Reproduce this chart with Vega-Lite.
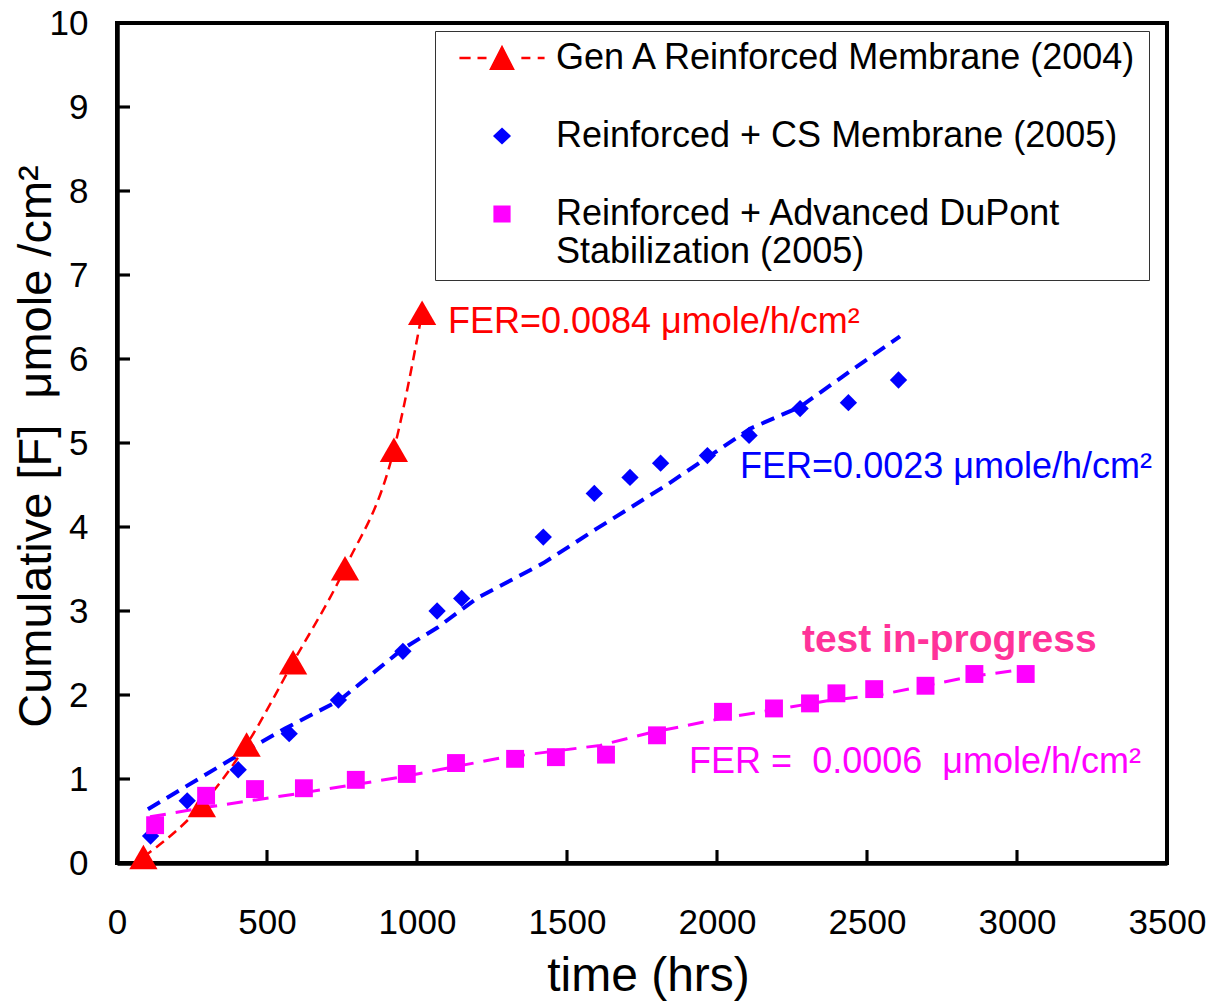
{
  "$schema": "https://vega.github.io/schema/vega-lite/v6.json",
  "width": 1050,
  "height": 840,
  "autosize": {"type": "none"},
  "padding": {"left": 117, "top": 23, "right": 45, "bottom": 138},
  "background": "white",
  "config": {
    "font": "Liberation Sans",
    "view": {"stroke": "black", "strokeWidth": 4},
    "axis": {"grid": false, "domainColor": "black", "tickColor": "black", "labelColor": "black", "titleColor": "black", "labelFont": "Liberation Sans", "titleFont": "Liberation Sans", "titleFontWeight": "normal"}
  },
  "datasets": {
    "pts": [
      {"series": "Gen A Reinforced Membrane (2004)", "t": 88, "F": 0.07},
      {"series": "Gen A Reinforced Membrane (2004)", "t": 283, "F": 0.69},
      {"series": "Gen A Reinforced Membrane (2004)", "t": 432, "F": 1.41},
      {"series": "Gen A Reinforced Membrane (2004)", "t": 587, "F": 2.39},
      {"series": "Gen A Reinforced Membrane (2004)", "t": 760, "F": 3.51},
      {"series": "Gen A Reinforced Membrane (2004)", "t": 923, "F": 4.92},
      {"series": "Gen A Reinforced Membrane (2004)", "t": 1017, "F": 6.55},
      {"series": "Reinforced + CS Membrane (2005)", "t": 112, "F": 0.32},
      {"series": "Reinforced + CS Membrane (2005)", "t": 234, "F": 0.74},
      {"series": "Reinforced + CS Membrane (2005)", "t": 404, "F": 1.11},
      {"series": "Reinforced + CS Membrane (2005)", "t": 574, "F": 1.54},
      {"series": "Reinforced + CS Membrane (2005)", "t": 738, "F": 1.94},
      {"series": "Reinforced + CS Membrane (2005)", "t": 953, "F": 2.52},
      {"series": "Reinforced + CS Membrane (2005)", "t": 1067, "F": 3.0},
      {"series": "Reinforced + CS Membrane (2005)", "t": 1149, "F": 3.15},
      {"series": "Reinforced + CS Membrane (2005)", "t": 1421, "F": 3.88},
      {"series": "Reinforced + CS Membrane (2005)", "t": 1591, "F": 4.40},
      {"series": "Reinforced + CS Membrane (2005)", "t": 1710, "F": 4.59},
      {"series": "Reinforced + CS Membrane (2005)", "t": 1812, "F": 4.76},
      {"series": "Reinforced + CS Membrane (2005)", "t": 1968, "F": 4.85},
      {"series": "Reinforced + CS Membrane (2005)", "t": 2107, "F": 5.09},
      {"series": "Reinforced + CS Membrane (2005)", "t": 2277, "F": 5.41},
      {"series": "Reinforced + CS Membrane (2005)", "t": 2438, "F": 5.48},
      {"series": "Reinforced + CS Membrane (2005)", "t": 2605, "F": 5.75},
      {"series": "Reinforced + Advanced DuPont Stabilization (2005)", "t": 127, "F": 0.45},
      {"series": "Reinforced + Advanced DuPont Stabilization (2005)", "t": 297, "F": 0.80},
      {"series": "Reinforced + Advanced DuPont Stabilization (2005)", "t": 460, "F": 0.88},
      {"series": "Reinforced + Advanced DuPont Stabilization (2005)", "t": 623, "F": 0.89},
      {"series": "Reinforced + Advanced DuPont Stabilization (2005)", "t": 796, "F": 0.99},
      {"series": "Reinforced + Advanced DuPont Stabilization (2005)", "t": 966, "F": 1.06},
      {"series": "Reinforced + Advanced DuPont Stabilization (2005)", "t": 1130, "F": 1.19},
      {"series": "Reinforced + Advanced DuPont Stabilization (2005)", "t": 1327, "F": 1.24},
      {"series": "Reinforced + Advanced DuPont Stabilization (2005)", "t": 1463, "F": 1.26},
      {"series": "Reinforced + Advanced DuPont Stabilization (2005)", "t": 1630, "F": 1.29},
      {"series": "Reinforced + Advanced DuPont Stabilization (2005)", "t": 1800, "F": 1.52},
      {"series": "Reinforced + Advanced DuPont Stabilization (2005)", "t": 2020, "F": 1.80},
      {"series": "Reinforced + Advanced DuPont Stabilization (2005)", "t": 2190, "F": 1.84},
      {"series": "Reinforced + Advanced DuPont Stabilization (2005)", "t": 2310, "F": 1.90},
      {"series": "Reinforced + Advanced DuPont Stabilization (2005)", "t": 2398, "F": 2.02},
      {"series": "Reinforced + Advanced DuPont Stabilization (2005)", "t": 2524, "F": 2.07},
      {"series": "Reinforced + Advanced DuPont Stabilization (2005)", "t": 2695, "F": 2.11},
      {"series": "Reinforced + Advanced DuPont Stabilization (2005)", "t": 2858, "F": 2.25},
      {"series": "Reinforced + Advanced DuPont Stabilization (2005)", "t": 3029, "F": 2.25}
    ],
    "fits": [
      {"fit": "blue", "t": 103, "F": 0.64},
      {"fit": "blue", "t": 388, "F": 1.25},
      {"fit": "blue", "t": 560, "F": 1.60},
      {"fit": "blue", "t": 743, "F": 1.94},
      {"fit": "blue", "t": 953, "F": 2.55},
      {"fit": "blue", "t": 1067, "F": 2.80},
      {"fit": "blue", "t": 1199, "F": 3.15},
      {"fit": "blue", "t": 1421, "F": 3.57},
      {"fit": "blue", "t": 1599, "F": 3.98},
      {"fit": "blue", "t": 1832, "F": 4.50},
      {"fit": "blue", "t": 2110, "F": 5.17},
      {"fit": "blue", "t": 2277, "F": 5.43},
      {"fit": "blue", "t": 2450, "F": 5.87},
      {"fit": "blue", "t": 2610, "F": 6.27},
      {"fit": "magenta", "t": 110, "F": 0.55},
      {"fit": "magenta", "t": 310, "F": 0.67},
      {"fit": "magenta", "t": 610, "F": 0.83},
      {"fit": "magenta", "t": 943, "F": 1.02},
      {"fit": "magenta", "t": 1277, "F": 1.25},
      {"fit": "magenta", "t": 1610, "F": 1.40},
      {"fit": "magenta", "t": 1777, "F": 1.55},
      {"fit": "magenta", "t": 2015, "F": 1.72},
      {"fit": "magenta", "t": 2383, "F": 1.94},
      {"fit": "magenta", "t": 2539, "F": 2.00},
      {"fit": "magenta", "t": 2848, "F": 2.22},
      {"fit": "magenta", "t": 3013, "F": 2.30}
    ],
    "tickmarks": [
      {"axis": "x", "t": 500, "F": 0}, {"axis": "x", "t": 1000, "F": 0}, {"axis": "x", "t": 1500, "F": 0},
      {"axis": "x", "t": 2000, "F": 0}, {"axis": "x", "t": 2500, "F": 0}, {"axis": "x", "t": 3000, "F": 0},
      {"axis": "y", "t": 0, "F": 1}, {"axis": "y", "t": 0, "F": 2}, {"axis": "y", "t": 0, "F": 3},
      {"axis": "y", "t": 0, "F": 4}, {"axis": "y", "t": 0, "F": 5}, {"axis": "y", "t": 0, "F": 6},
      {"axis": "y", "t": 0, "F": 7}, {"axis": "y", "t": 0, "F": 8}, {"axis": "y", "t": 0, "F": 9}
    ]
  },
  "encoding": {
    "x": {
      "field": "t", "type": "quantitative",
      "scale": {"domain": [0, 3500], "nice": false, "zero": false},
      "axis": {
        "title": "time (hrs)", "values": [0, 500, 1000, 1500, 2000, 2500, 3000, 3500], "format": "d",
        "labelFontSize": 35, "titleFontSize": 48, "ticks": false,
        "domainWidth": 4.5, "labelPadding": 70, "labelBaseline": "alphabetic",
        "labelFlush": false, "labelOverlap": false,
        "titleX": 531, "titleY": 127, "titleBaseline": "alphabetic", "titleAlign": "center"
      }
    },
    "y": {
      "field": "F", "type": "quantitative",
      "scale": {"domain": [0, 10], "nice": false, "zero": false},
      "axis": {
        "title": "Cumulative [F]\u00a0 μmole /cm²", "values": [0, 1, 2, 3, 4, 5, 6, 7, 8, 9, 10], "format": "d",
        "labelFontSize": 35, "titleFontSize": 47, "ticks": false,
        "domainWidth": 4.5, "labelPadding": 29, "labelFlush": false, "labelOverlap": false,
        "titleX": -67, "titleY": 423, "titleAngle": -90, "titleBaseline": "alphabetic", "titleAlign": "center"
      }
    }
  },
  "layer": [
    {
      "data": {"name": "tickmarks"},
      "transform": [{"filter": "datum.axis === 'x'"}],
      "mark": {"type": "point", "filled": true, "opacity": 1, "strokeWidth": 0, "color": "black", "size": 676, "shape": "M-0.12,-1H0.12V0H-0.12Z"}
    },
    {
      "data": {"name": "tickmarks"},
      "transform": [{"filter": "datum.axis === 'y'"}],
      "mark": {"type": "point", "filled": true, "opacity": 1, "strokeWidth": 0, "color": "black", "size": 676, "shape": "M0,-0.12H1V0.12H0Z"}
    },
    {
      "data": {"name": "pts"},
      "transform": [{"filter": "datum.series === 'Gen A Reinforced Membrane (2004)'"}],
      "mark": {"type": "line", "color": "#FF0000", "strokeWidth": 2.5, "strokeDash": [10, 6], "interpolate": "monotone"},
      "encoding": {"order": {"field": "t", "type": "quantitative"}}
    },
    {
      "data": {"name": "fits"},
      "transform": [{"filter": "datum.fit === 'blue'"}],
      "mark": {"type": "line", "color": "#0000FF", "strokeWidth": 4, "strokeDash": [14, 8]},
      "encoding": {"order": {"field": "t", "type": "quantitative"}}
    },
    {
      "data": {"name": "fits"},
      "transform": [{"filter": "datum.fit === 'magenta'"}],
      "mark": {"type": "line", "color": "#FF00FF", "strokeWidth": 3, "strokeDash": [16, 10]},
      "encoding": {"order": {"field": "t", "type": "quantitative"}}
    },
    {
      "data": {"name": "pts"},
      "transform": [{"filter": "datum.series === 'Gen A Reinforced Membrane (2004)'"}],
      "mark": {"type": "point", "filled": true, "opacity": 1, "strokeWidth": 0, "color": "#FF0000", "shape": "triangle-up", "size": 800}
    },
    {
      "data": {"name": "pts"},
      "transform": [{"filter": "datum.series === 'Reinforced + CS Membrane (2005)'"}],
      "mark": {"type": "point", "filled": true, "opacity": 1, "strokeWidth": 0, "color": "#0000FF", "shape": "diamond", "size": 300}
    },
    {
      "data": {"name": "pts"},
      "transform": [{"filter": "datum.series === 'Reinforced + Advanced DuPont Stabilization (2005)'"}],
      "mark": {"type": "point", "filled": true, "opacity": 1, "strokeWidth": 0, "color": "#FF00FF", "shape": "square", "size": 320}
    },
    {
      "data": {"name": "pts"},
      "transform": [{"filter": "datum.t < 0"}],
      "mark": {"type": "point", "filled": true, "opacity": 1, "strokeWidth": 0},
      "encoding": {
        "shape": {
          "field": "series", "type": "nominal",
          "scale": {"domain": ["Gen A Reinforced Membrane (2004)", "Reinforced + CS Membrane (2005)", "Reinforced + Advanced DuPont Stabilization (2005)"], "range": ["M-0.99,-0.03H-0.73V0.03H-0.99Z M-0.57,-0.03H-0.36V0.03H-0.57Z M0.45,-0.03H0.66V0.03H0.45Z M0.83,-0.03H0.99V0.03H0.83Z M0,-0.31L0.3,0.28L-0.3,0.28Z", "M0,-0.2L0.21,0L0,0.2L-0.21,0Z", "M-0.2,-0.2H0.2V0.2H-0.2Z"]},
          "legend": {
            "orient": "none", "legendX": 318, "legendY": 8, "title": null,
            "strokeColor": "#333333", "fillColor": "white", "padding": 10,
            "labelFontSize": 36, "labelFont": "Liberation Sans", "labelColor": "black", "labelLimit": 0,
            "rowPadding": 42, "symbolOffset": 14, "labelOffset": 11, "symbolStrokeWidth": 0,
            "symbolSize": 7396, "clipHeight": 34,
            "labelExpr": "datum.label === 'Reinforced + Advanced DuPont Stabilization (2005)' ? ['Reinforced + Advanced DuPont', 'Stabilization (2005)'] : datum.label"
          }
        },
        "color": {
          "field": "series", "type": "nominal",
          "scale": {"domain": ["Gen A Reinforced Membrane (2004)", "Reinforced + CS Membrane (2005)", "Reinforced + Advanced DuPont Stabilization (2005)"], "range": ["#FF0000", "#0000FF", "#FF00FF"]}
        }
      }
    },
    {
      "data": {"values": [{"t": 1103, "F": 6.31, "label": "FER=0.0084 μmole/h/cm²"}]},
      "mark": {"type": "text", "align": "left", "baseline": "alphabetic", "fontSize": 36, "color": "#FF0000"},
      "encoding": {"text": {"field": "label"}}
    },
    {
      "data": {"values": [{"t": 2077, "F": 4.58, "label": "FER=0.0023 μmole/h/cm²"}]},
      "mark": {"type": "text", "align": "left", "baseline": "alphabetic", "fontSize": 36, "color": "#0000FF"},
      "encoding": {"text": {"field": "label"}}
    },
    {
      "data": {"values": [{"t": 2283, "F": 2.51, "label": "test in-progress"}]},
      "mark": {"type": "text", "align": "left", "baseline": "alphabetic", "fontSize": 39, "fontWeight": "bold", "color": "#FF3399"},
      "encoding": {"text": {"field": "label"}}
    },
    {
      "data": {"values": [{"t": 1907, "F": 1.07, "label": "FER =\u00a0 0.0006\u00a0 μmole/h/cm²"}]},
      "mark": {"type": "text", "align": "left", "baseline": "alphabetic", "fontSize": 36, "color": "#FF00FF"},
      "encoding": {"text": {"field": "label"}}
    }
  ]
}
